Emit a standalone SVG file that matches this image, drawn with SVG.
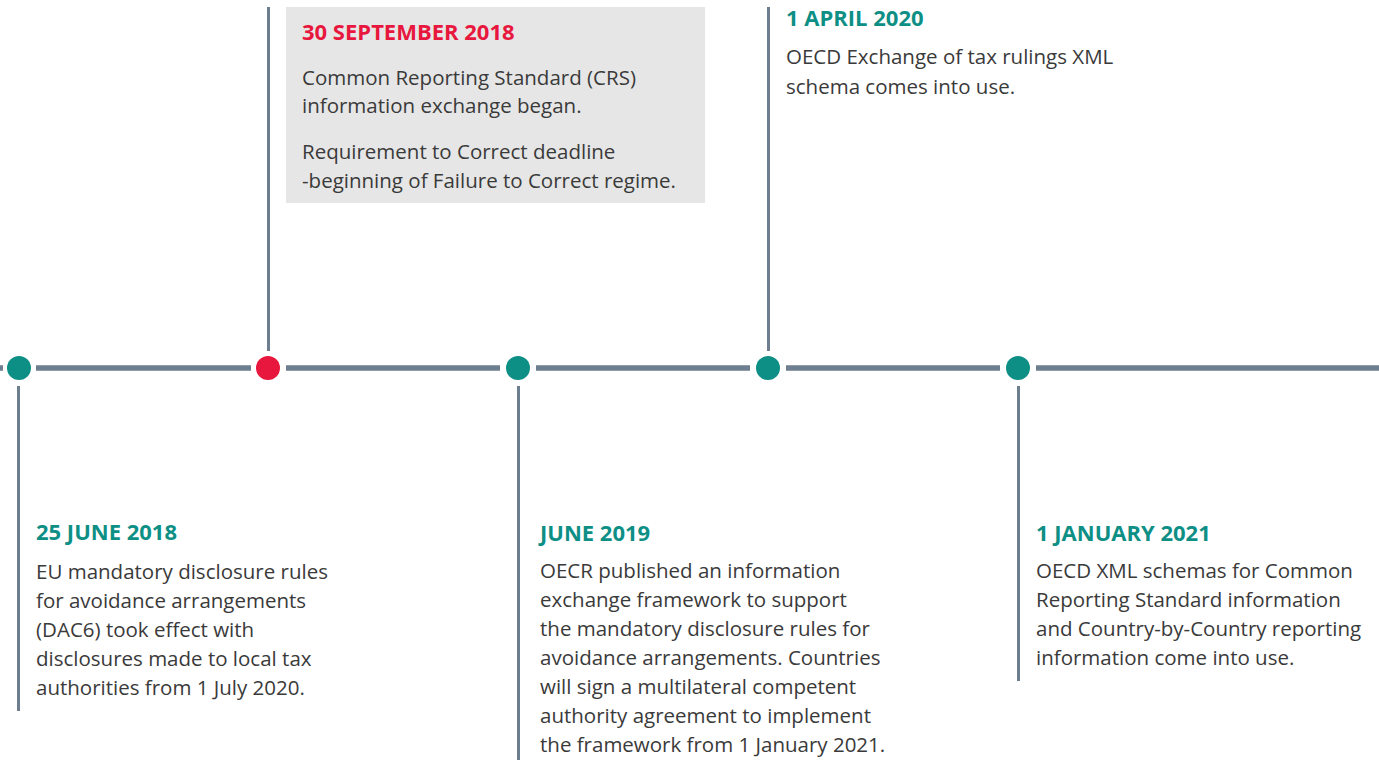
<svg xmlns="http://www.w3.org/2000/svg" width="1379" height="760" viewBox="0 0 1379 760">
  <style>
    .axis { stroke: #6d7e8e; stroke-width: 5.5; fill: none; }
    .stem { stroke: #6d7e8e; stroke-width: 3; fill: none; }
    .dot { fill: #0e8f85; }
    .dot-hot { fill: #e8173d; }
    .date { font-family: "Open Sans", "Liberation Sans", sans-serif; font-weight: 700; font-size: 22px; fill: #0e8f85; }
    .date-hot { fill: #e8173d; }
    .body { font-family: "Open Sans", "Liberation Sans", sans-serif; font-size: 20.5px; fill: #3a3a3a; }
  </style>

  <rect width="1379" height="760" fill="#ffffff"/>

  <!-- timeline axis and stems -->
  <g id="connectors">
    <line class="axis" x1="0" y1="368" x2="3" y2="368"/>
    <line class="axis" x1="36" y1="368" x2="251" y2="368"/>
    <line class="axis" x1="286" y1="368" x2="500" y2="368"/>
    <line class="axis" x1="536" y1="368" x2="750" y2="368"/>
    <line class="axis" x1="786" y1="368" x2="1000" y2="368"/>
    <line class="axis" x1="1036" y1="368" x2="1379" y2="368"/>

    <line class="stem" x1="18.5" y1="386" x2="18.5" y2="711"/>
    <line class="stem" x1="268.5" y1="7" x2="268.5" y2="351"/>
    <line class="stem" x1="518.5" y1="386" x2="518.5" y2="760"/>
    <line class="stem" x1="768.5" y1="7" x2="768.5" y2="351"/>
    <line class="stem" x1="1018.5" y1="386" x2="1018.5" y2="681"/>
  </g>

  <!-- 25 June 2018 -->
  <g id="event-2018-06-25">
    <circle class="dot" cx="19" cy="368" r="12"/>
    <text class="date" x="36" y="540">25 JUNE 2018</text>
    <text class="body" x="36" y="579">EU mandatory disclosure rules</text>
    <text class="body" x="36" y="608">for avoidance arrangements</text>
    <text class="body" x="36" y="637">(DAC6) took effect with</text>
    <text class="body" x="36" y="666">disclosures made to local tax</text>
    <text class="body" x="36" y="695">authorities from 1 July 2020.</text>
  </g>

  <!-- 30 September 2018 -->
  <g id="event-2018-09-30">
    <circle class="dot-hot" cx="268" cy="368" r="12"/>
    <rect x="286" y="7" width="419" height="196" fill="#e6e6e6"/>
    <text class="date date-hot" x="302" y="40">30 SEPTEMBER 2018</text>
    <text class="body" x="302" y="85">Common Reporting Standard (CRS)</text>
    <text class="body" x="302" y="113">information exchange began.</text>
    <text class="body" x="302" y="159">Requirement to Correct deadline</text>
    <text class="body" x="302" y="188">-beginning of Failure to Correct regime.</text>
  </g>

  <!-- June 2019 -->
  <g id="event-2019-06">
    <circle class="dot" cx="518" cy="368" r="12"/>
    <text class="date" x="540" y="541">JUNE 2019</text>
    <text class="body" x="540" y="578">OECR published an information</text>
    <text class="body" x="540" y="607">exchange framework to support</text>
    <text class="body" x="540" y="636">the mandatory disclosure rules for</text>
    <text class="body" x="540" y="665">avoidance arrangements. Countries</text>
    <text class="body" x="540" y="694">will sign a multilateral competent</text>
    <text class="body" x="540" y="723">authority agreement to implement</text>
    <text class="body" x="540" y="752">the framework from 1 January 2021.</text>
  </g>

  <!-- 1 April 2020 -->
  <g id="event-2020-04-01">
    <circle class="dot" cx="768" cy="368" r="12"/>
    <text class="date" x="786" y="26">1 APRIL 2020</text>
    <text class="body" x="786" y="64">OECD Exchange of tax rulings XML</text>
    <text class="body" x="786" y="94">schema comes into use.</text>
  </g>

  <!-- 1 January 2021 -->
  <g id="event-2021-01-01">
    <circle class="dot" cx="1018" cy="368" r="12"/>
    <text class="date" x="1036" y="541">1 JANUARY 2021</text>
    <text class="body" x="1036" y="578">OECD XML schemas for Common</text>
    <text class="body" x="1036" y="607">Reporting Standard information</text>
    <text class="body" x="1036" y="636">and Country-by-Country reporting</text>
    <text class="body" x="1036" y="665">information come into use.</text>
  </g>
</svg>
